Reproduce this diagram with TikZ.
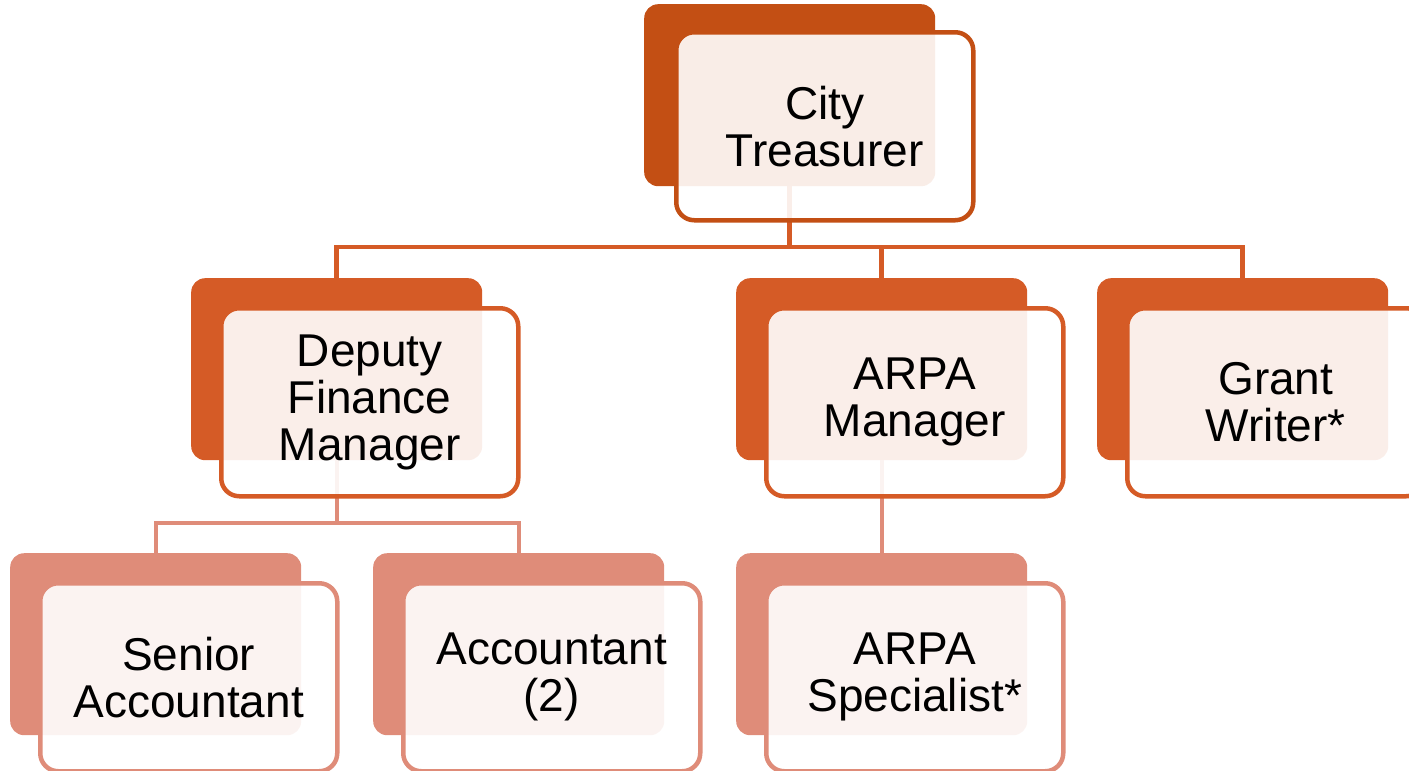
\documentclass[tikz,border=0pt]{standalone}
\usepackage{fontspec}
\setmainfont{Liberation Sans}
\usetikzlibrary{positioning, calc}
\definecolor{RustDark}{RGB}{195,79,20}
\definecolor{RustMid}{RGB}{213,91,38}
\definecolor{RustLight}{RGB}{223,140,121}
\tikzset{
  backbox/.style={fill=#1, rounded corners=14pt, minimum width=291pt, minimum height=182pt, inner sep=0pt, anchor=north west},
  frontbox/.style={draw=#1, line width=4.5pt, fill=white, fill opacity=0.9, text opacity=1, rounded corners=18pt,
    minimum width=297pt, minimum height=188pt, inner sep=0pt, anchor=north west, align=center,
    font=\fontsize{46}{47}\selectfont},
  linkline/.style={draw=#1, line width=4.5pt},
}
\begin{document}
\begin{tikzpicture}[x=1pt, y=-1pt]
\clip (0,0) rectangle (1409,771);
% back plates
\node[backbox=RustDark] (CTb) at (644,4) {};
\node[backbox=RustMid] (DFMb) at (191,278) {};
\node[backbox=RustMid] (AMb) at (736,278) {};
\node[backbox=RustMid] (GWb) at (1097,278) {};
\node[backbox=RustLight] (SAb) at (10,553) {};
\node[backbox=RustLight] (ACb) at (373,553) {};
\node[backbox=RustLight] (ASb) at (736,553) {};
% connectors
\coordinate (bar1) at (0,247);
\coordinate (bar2) at (0,523);
\draw[linkline=RustMid] (CTb.south) -- (CTb.south |- bar1) -| (DFMb.north);
\draw[linkline=RustMid] (CTb.south |- bar1) -| (AMb.north);
\draw[linkline=RustMid] (CTb.south |- bar1) -| (GWb.north);
\draw[linkline=RustLight, line width=4pt] (DFMb.south) -- (DFMb.south |- bar2) -| (SAb.north);
\draw[linkline=RustLight, line width=4pt] (DFMb.south |- bar2) -| (ACb.north);
\draw[linkline=RustLight, line width=4pt] (AMb.south) -- (ASb.north);
% front cards
\node[frontbox=RustDark] (CT) at ($(CTb.north west)+(30,26)$) {City\\Treasurer};
\node[frontbox=RustMid] (DFM) at ($(DFMb.north west)+(28,28)$) {Deputy\\Finance\\Manager};
\node[frontbox=RustMid] (AM) at ($(AMb.north west)+(28,28)$) {ARPA\\Manager};
\node[frontbox=RustMid] (GW) at ($(GWb.north west)+(28,28)$) {Grant\\Writer*};
\node[frontbox=RustLight] (SA) at ($(SAb.north west)+(28,28)$) {Senior\\Accountant};
\node[frontbox=RustLight] (AC) at ($(ACb.north west)+(28,28)$) {Accountant\\(2)};
\node[frontbox=RustLight] (AS) at ($(ASb.north west)+(28,28)$) {ARPA\\Specialist*};
\end{tikzpicture}
\end{document}
